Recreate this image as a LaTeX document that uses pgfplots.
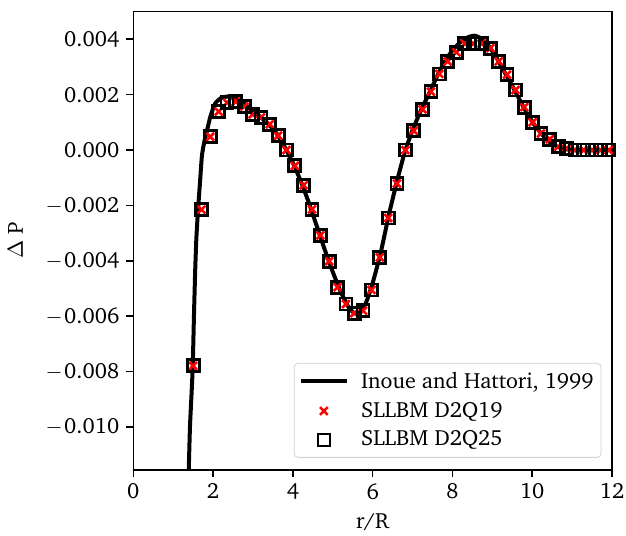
\documentclass[border=0pt]{standalone}
\usepackage[T1]{fontenc}
\usepackage{charter}
\usepackage{pgfplots}
\usepackage{pgfplotstable}
\pgfplotsset{compat=1.18}
\newcommand{\chartfont}{\fontsize{11}{13}\selectfont}
\pgfplotsset{
  lineleg/.style={legend image code/.code={\draw[##1] (0cm,0cm) -- (0.8cm,0cm);}},
  markleg/.style={legend image code/.code={\draw[mark repeat=2,mark phase=2,##1] plot coordinates {(0cm,0cm) (0.4cm,0cm) (0.8cm,0cm)};}},
}

\pgfplotstableread{
x y
1.385 -0.0118
1.42 -0.0100
1.46 -0.0088
1.49 -0.0078
1.52 -0.0060
1.55 -0.0044
1.58 -0.0032
1.62 -0.0022
1.67 -0.0012
1.72 -0.0002
1.78 0.0003
1.83 0.0006
1.93 0.0012
2.05 0.00168
2.20 0.00188
2.35 0.00193
2.50 0.00190
2.65 0.00181
2.80 0.00165
3.00 0.00142
3.20 0.00118
3.40 0.00092
3.60 0.00058
3.80 0.00010
4.00 -0.00046
4.20 -0.00113
4.40 -0.00190
4.60 -0.00275
4.80 -0.00360
5.00 -0.00440
5.20 -0.00512
5.40 -0.00568
5.55 -0.00590
5.70 -0.00585
5.85 -0.00545
6.00 -0.00480
6.20 -0.00372
6.40 -0.00238
6.60 -0.00118
6.80 -0.00010
7.00 0.00072
7.20 0.00140
7.40 0.00200
7.60 0.00262
7.80 0.00318
8.00 0.00360
8.20 0.00390
8.40 0.00408
8.55 0.00413
8.70 0.00405
8.90 0.00378
9.10 0.00335
9.30 0.00283
9.50 0.00232
9.70 0.00177
9.90 0.00125
10.10 0.00082
10.30 0.00048
10.50 0.00022
10.70 0.00008
10.90 0.00002
11.20 0.0
12.00 0.0
}\inoue

\pgfplotstableread{
x y
1.50 -0.00779
1.71 -0.00215
1.93 0.00048
2.14 0.00139
2.35 0.00171
2.57 0.00175
2.78 0.00157
2.99 0.00129
3.20 0.00118
3.42 0.00093
3.63 0.00052
3.84 0.00000
4.05 -0.00057
4.27 -0.00127
4.48 -0.00214
4.69 -0.00308
4.91 -0.00401
5.12 -0.00495
5.33 -0.00556
5.54 -0.00589
5.76 -0.00580
5.97 -0.00505
6.18 -0.00387
6.39 -0.00245
6.61 -0.00121
6.82 0.00000
7.03 0.00070
7.25 0.00147
7.46 0.00211
7.67 0.00275
7.88 0.00320
8.10 0.00353
8.31 0.00384
8.52 0.00384
8.73 0.00384
8.95 0.00368
9.16 0.00320
9.37 0.00272
9.58 0.00217
9.80 0.00155
10.01 0.00100
10.22 0.00060
10.44 0.00039
10.65 0.00012
10.86 0.00006
11.07 0.00000
11.29 0.00000
11.50 0.00000
11.71 0.00000
11.92 0.00000
}\sllbm

\begin{document}
\begin{tikzpicture}
\useasboundingbox (-66.7pt,-33pt) rectangle (246.5pt,235pt);
\begin{axis}[
  scale only axis,
  width=239.5pt, height=229.2pt,
  xmin=0, xmax=12,
  ymin=-0.01154, ymax=0.005,
  xtick={0,2,4,6,8,10,12},
  xticklabels={0,2,4,6,8,10,12},
  ytick={-0.010,-0.008,-0.006,-0.004,-0.002,0,0.002,0.004},
  yticklabels={{$-$\kern0.8pt0.010},{$-$\kern0.8pt0.008},{$-$\kern0.8pt0.006},{$-$\kern0.8pt0.004},{$-$\kern0.8pt0.002},0.000,0.002,0.004},
  scaled y ticks=false,
  tick align=outside,
  xtick pos=bottom, ytick pos=left,
  major tick length=3.5pt,
  tick style={line width=0.8pt, black},
  axis line style={line width=0.8pt},
  tick label style={font=\chartfont},
  label style={font=\chartfont},
  xlabel={r/R},
  ylabel={$\Delta$ P},
  xlabel style={yshift=0pt},
  ylabel style={yshift=4.5pt},
  legend cell align=left,
  legend style={at={(0.978,0.026)}, anchor=south east, font=\chartfont,
    draw=black!18, rounded corners=2pt, fill=white,
    row sep=3.1pt, column sep=5pt, inner xsep=2.5pt, inner ysep=3pt,
    nodes={inner sep=1.2pt}},
]
\addplot[black, line width=2pt, smooth, tension=0.3, lineleg]
  table[x=x,y=y] {\inoue};
\addlegendentry{Inoue and Hattori, 1999}
\addplot[only marks, mark=x, mark size=2.75pt, red, line width=1.3pt, markleg]
  table[x=x,y=y] {\sllbm};
\addlegendentry{SLLBM D2Q19}
\addplot[only marks, mark=square, mark size=3pt, black, line width=1.4pt, markleg]
  table[x=x,y=y] {\sllbm};
\addlegendentry{SLLBM D2Q25}
\end{axis}
\end{tikzpicture}
\end{document}
